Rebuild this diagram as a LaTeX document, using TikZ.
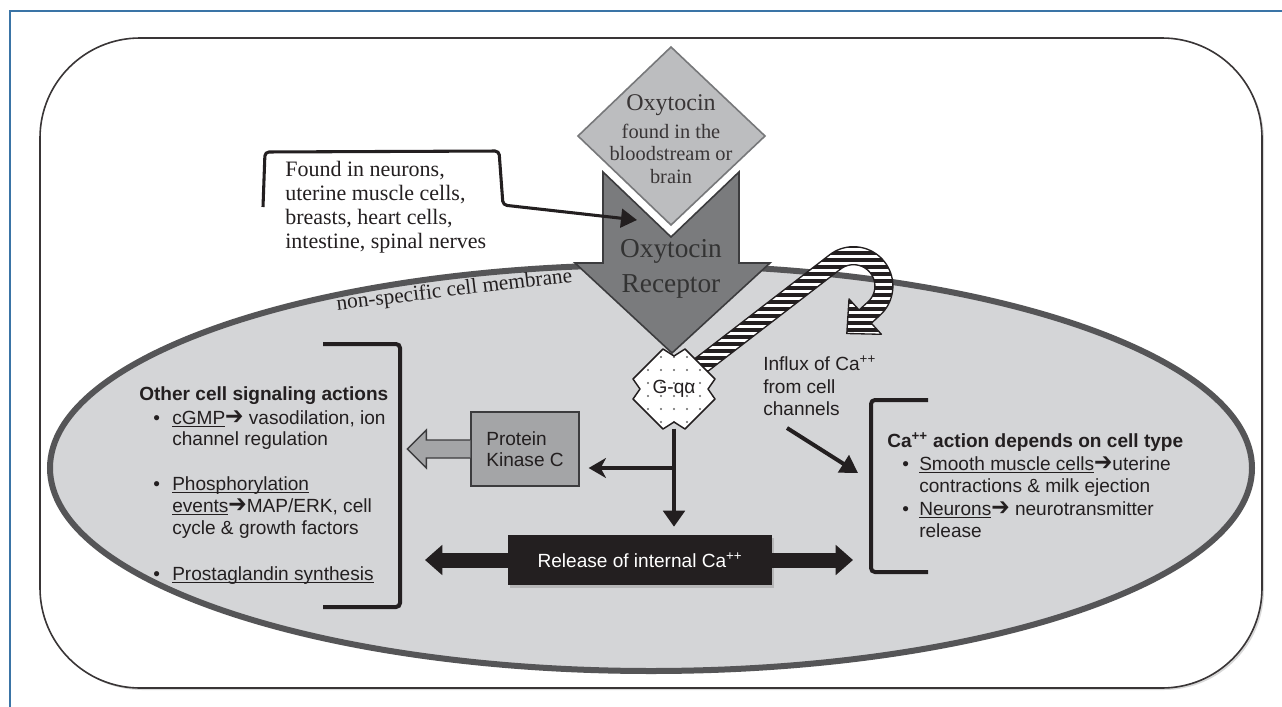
\documentclass[tikz,border=0pt]{standalone}
\usepackage{graphicx}
\usepackage{fontspec}
\setmainfont{Liberation Serif}
\setsansfont{Liberation Sans}
\newfontfamily\symfont{DejaVu Sans}
\usetikzlibrary{arrows.meta,shadows,calc}
\definecolor{frameblue}{HTML}{3A74A6}
\definecolor{cellfill}{HTML}{D4D5D7}
\definecolor{cellline}{HTML}{555557}
\definecolor{oxyfill}{HTML}{BCBDBF}
\definecolor{oxyline}{HTML}{77787A}
\definecolor{recfill}{HTML}{7A7B7D}
\definecolor{recline}{HTML}{3C3C3E}
\definecolor{pkcfill}{HTML}{A4A5A7}
\definecolor{ink}{HTML}{231F20}
\newcommand{\myul}[1]{\setbox0\hbox{#1}\rlap{\rule[-2.2pt]{\wd0}{0.7pt}}\box0}
\newcommand{\rarr}{\raisebox{-0.5pt}{\scalebox{1.15}[1.3]{\symfont\bfseries ➔}}}
\begin{document}
\begin{tikzpicture}[x=0.75pt,y=-0.75pt,
  sans/.style={font=\sffamily\fontsize{14.3}{16.5}\selectfont,text=ink,inner sep=0pt,anchor=base west},
  sansb/.style={sans,font=\sffamily\bfseries\fontsize{14.3}{16.5}\selectfont},
  serif/.style={font=\rmfamily\fontsize{16.5}{18}\selectfont,text=ink,inner sep=0pt,anchor=base west},
  oxytxt/.style={text=ink!90,inner sep=0pt,anchor=base},
  blk/.style={line width=3pt,draw=ink},
  brk/.style={line width=3pt,draw=ink,rounded corners=3pt},
  bigarrow/.style={draw=ink,line width=11.25pt,-{Triangle[width=22pt,length=13pt]}},
  pkcbox/.style={draw=recline,line width=1pt,fill=pkcfill,minimum width=81pt,minimum height=55.5pt,inner sep=0pt,align=left,font=\sffamily\fontsize{14.3}{15.75}\selectfont,text=ink},
  relbox/.style={fill=ink,minimum width=198pt,minimum height=37.5pt,inner sep=0pt,font=\sffamily\fontsize{14.3}{16.5}\selectfont,text=white,
    drop shadow={shadow xshift=1.5pt,shadow yshift=-2pt,fill=black!40,opacity=0.5}}
]
\useasboundingbox (0,0) rectangle (1282,707);
\fill[white] (0,0) rectangle (1282,707);
% page frame
\draw[frameblue,line width=1.1pt] (10,707) -- (10,11) -- (1282,11);
% rounded outer box
\draw[line width=1.2pt,draw=ink!90,fill=white,rounded corners=75pt,
  drop shadow={shadow xshift=1.5pt,shadow yshift=-1.5pt,fill=black!30,opacity=0.5}]
  (40,38) rectangle (1262,688);
% cell
\draw[cellline,line width=4.5pt,fill=cellfill] (651,468) ellipse [x radius=450.75pt,y radius=152.25pt];
\node[serif,anchor=base,rotate=6.8,font=\rmfamily\fontsize{16}{18}\selectfont] (memb) at (455,296) {non-specific cell membrane};
% oxytocin diamond
\draw[oxyline,line width=1.2pt,fill=oxyfill] (671,47) -- (765,136) -- (671,225) -- (578,136) -- cycle;
\node[oxytxt,font=\rmfamily\fontsize{18}{20}\selectfont] (oxy) at (671,110) {Oxytocin};
\node[oxytxt,font=\rmfamily\fontsize{15.3}{17}\selectfont] (oxy2) at (671,138) {found in the};
\node[oxytxt,font=\rmfamily\fontsize{15.3}{17}\selectfont] (oxy3) at (671,160) {bloodstream or};
\node[oxytxt,font=\rmfamily\fontsize{15.3}{17}\selectfont] (oxy4) at (671,183) {brain};
% receptor arrow
\draw[recline,line width=1.2pt,fill=recfill] (603,172) -- (671,237) -- (739,172) -- (739,263) -- (770,263) -- (672,353) -- (575,263) -- (603,263) -- cycle;
\node[oxytxt,text=black!80,font=\rmfamily\fontsize{20.5}{22}\selectfont] (rec1) at (671,257) {Oxytocin};
\node[oxytxt,text=black!80,font=\rmfamily\fontsize{20.5}{22}\selectfont] (rec2) at (671,292) {Receptor};
% callout
\node[serif] (found1) at (285,176) {Found in neurons,};
\node[serif] (found2) at (285,200) {uterine muscle cells,};
\node[serif] (found3) at (285,224) {breasts, heart cells,};
\node[serif] (found4) at (285,248) {intestine, spinal nerves};
\coordinate (recpt) at (637,220);
\draw[line width=2.3pt,ink,rounded corners=3pt,-{Triangle[width=14pt,length=12pt]}]
  (263,207) -- (265,152) -- (499,151) -- (503,205) -- (recpt);
% striped curved arrow
\def\stripepath{(694.5,358.9) -- (829.5,254.9) -- plot[domain=-127.6:47.5,samples=40] ({853.5+39.4*cos(\x)},{286.1+39.4*sin(\x)}) -- (871.3,323.2) -- (881.4,334.3) -- (846.8,333.5) -- (849.0,298.9) -- (859.1,310.0) -- plot[domain=47.5:-127.6,samples=40] ({853.5+21.4*cos(\x)},{286.1+21.4*sin(\x)}) -- (705.5,373.1) -- cycle}
\begin{scope}
  \clip \stripepath;
  \fill[white] (680,230) rectangle (900,390);
  \foreach \yy in {232,239,...,390} \draw[ink,line width=2.6pt] (680,\yy) -- (900,\yy);
\end{scope}
\draw[ink,line width=1pt,line join=round] \stripepath;
% G-q alpha
\def\gqpath{(663,349) -- (674,356) -- (685,349) -- (715,379) -- (708,389) -- (715,399) -- (685,429) -- (674,422) -- (663,429) -- (633,399) -- (640,389) -- (633,379) -- cycle}
\fill[white] \gqpath;
\begin{scope}
  \clip \gqpath;
  \foreach \i in {-3,...,3} \foreach \j in {-3,...,3}
    \fill[black!60] (674+\i*13,389+\j*13-6) circle (0.9pt);
\end{scope}
\draw[ink,line width=1.1pt,line join=round] \gqpath;
\node[inner sep=0pt,minimum width=61.5pt,minimum height=59pt,font=\sffamily\fontsize{14.3}{16.5}\selectfont,text=ink] (gq) at (674,389) {G-qα};
% protein kinase C and its hollow arrow
\node[pkcbox] (pkc) at (525,449) {Protein\\Kinase C};
\draw[recline,line width=1pt,fill=pkcfill,line join=miter] ([yshift=6.75pt]pkc.west) -- ++(-44,0) -- ++(0,-10) -- ++(-19,19) -- ++(19,19) -- ++(0,-10) -- ++(44,0);
% release box
\node[relbox] (rel) at (640,560) {Release of internal Ca\textsuperscript{++}};
\coordinate (ltip) at (425,560);
\coordinate (rtip) at (853,560);
\draw[bigarrow] (rel.west) -- (ltip);
\draw[bigarrow] (rel.east) -- (rtip);
% connectors from G-q alpha
\coordinate (br) at (674,468);
\draw[blk,shorten >=6pt,-{Triangle[width=16pt,length=12pt]}] (gq.south) -- (gq.south |- rel.north);
\draw[blk,shorten >=6.75pt,-{Stealth[width=15pt,length=13pt,inset=4pt]}] (br) -- (pkc.east |- br);
% influx
\node[sans] (inf1) at (763,370) {Influx of Ca\textsuperscript{++}};
\node[sans] (inf2) at (763,393) {from cell};
\node[sans] (inf3) at (763,415) {channels};
\coordinate (inA) at (787,428);
\coordinate (inB) at (858,473);
\draw[blk,-{Triangle[width=15pt,length=13pt]}] (inA) -- (inB);
% brackets
\draw[brk] (323,344) -- (400,344) -- (400,607) -- (323,607);
\draw[brk] (928,400) -- (871,400) -- (871,572) -- (928,572);
% left text block
\node[sansb] (oth) at (139,400) {Other cell signaling actions};
\node[sans] (l1) at (153,424) {\makebox[14.25pt][l]{•}\myul{cGMP}\rarr{} vasodilation, ion};
\node[sans] (l2) at (172,445) {channel regulation};
\node[sans] (l3) at (153,490) {\makebox[14.25pt][l]{•}\myul{Phosphorylation}};
\node[sans] (l4) at (172,512) {\myul{events}\rarr MAP/ERK, cell};
\node[sans] (l5) at (172,534) {cycle \& growth factors};
\node[sans] (l6) at (153,580) {\makebox[14.25pt][l]{•}\myul{Prostaglandin synthesis}};
% right text block
\node[sansb] (cat) at (887,447) {Ca\textsuperscript{++} action depends on cell type};
\node[sans] (r1) at (902,470) {\makebox[12.75pt][l]{•}\myul{Smooth muscle cells} \rarr uterine};
\node[sans] (r2) at (919,492) {contractions \& milk ejection};
\node[sans] (r3) at (902,515) {\makebox[12.75pt][l]{•}\myul{Neurons} \rarr{} neurotransmitter};
\node[sans] (r4) at (919,537) {release};
\end{tikzpicture}
\end{document}
